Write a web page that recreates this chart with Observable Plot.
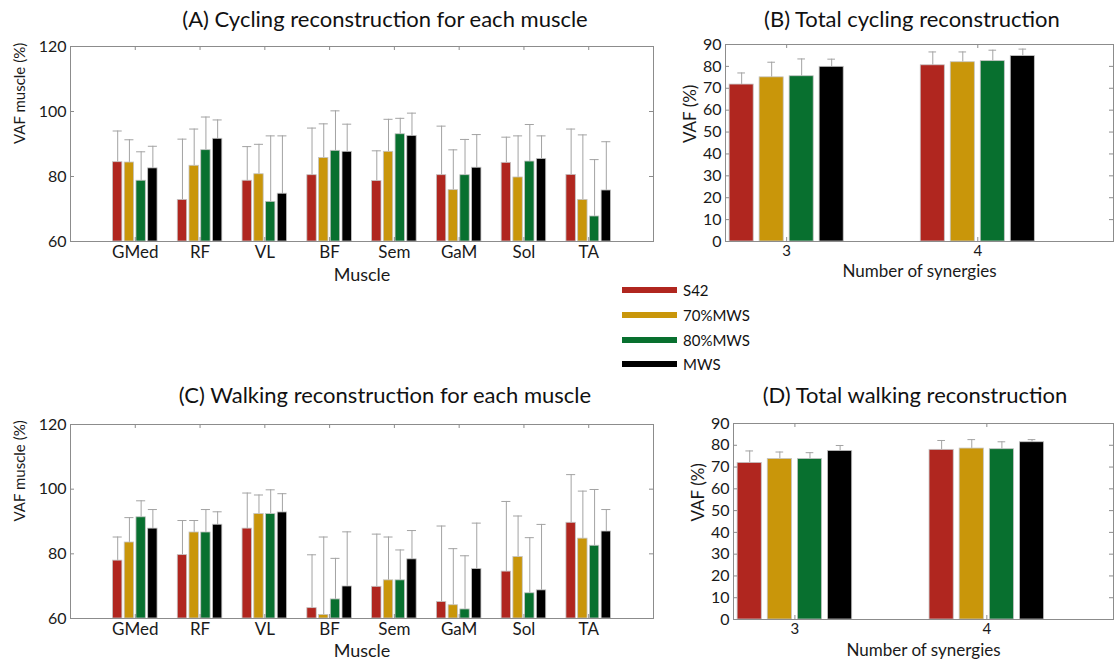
<!DOCTYPE html>
<html>
<head>
<meta charset="utf-8">
<script src="https://cdn.jsdelivr.net/npm/d3@7"></script>
<script src="https://cdn.jsdelivr.net/npm/@observablehq/plot@0.6"></script>
<style>
  body { margin: 0; background: #fff; font-family: Lato, "Open Sans", sans-serif; }
  #root { position: relative; width: 1116px; height: 667px; overflow: hidden; background: #fff; }
  .title { position: absolute; font-size: 22px; color: #111; white-space: nowrap; transform: translate(-50%, -50%); }
  .panel { position: absolute; }
  .legend { position: absolute; left: 622px; top: 278px; font-size: 15px; color: #111; }
  .legend .item { display: flex; align-items: center; height: 24.7px; }
  .legend .sw { width: 55px; height: 6px; margin-right: 6px; }
</style>
</head>
<body>
<div id="root"></div>
<script>
// ---------- data ----------
const muscles = ["GMed", "RF", "VL", "BF", "Sem", "GaM", "Sol", "TA"];
const synergies = [3, 4];
const conditions = ["S42", "70%MWS", "80%MWS", "MWS"];
const condColors = ["#B0261F", "#C9960A", "#08702F", "#000000"];

// (A) cycling, per muscle: mean and upper end of error bar
const cycS42 = [84.4, 72.8, 78.7, 80.4, 78.6, 80.4, 84.2, 80.5];
const cycS42Hi = [94.0, 91.5, 89.2, 94.9, 87.9, 95.5, 92.1, 94.6];
const cyc70 = [84.3, 83.3, 80.7, 85.7, 87.6, 75.8, 79.7, 72.8];
const cyc70Hi = [91.3, 94.6, 89.9, 96.2, 97.6, 88.2, 92.5, 92.8];
const cyc80 = [78.7, 88.1, 72.2, 87.9, 93.0, 80.4, 84.6, 67.7];
const cyc80Hi = [87.6, 98.3, 92.5, 100.2, 97.9, 91.4, 96.0, 85.2];
const cycMWS = [82.5, 91.6, 74.7, 87.6, 92.5, 82.7, 85.4, 75.7];
const cycMWSHi = [89.3, 97.4, 92.5, 96.1, 99.5, 92.9, 92.5, 90.7];

// (C) walking, per muscle
const walkS42 = [77.9, 79.6, 87.8, 63.2, 69.8, 65.1, 74.5, 89.6];
const walkS42Hi = [85.2, 90.3, 98.8, 79.7, 86.1, 88.6, 96.2, 104.5];
const walk70 = [83.5, 86.6, 92.3, 61.1, 71.8, 64.1, 79.0, 84.7];
const walk70Hi = [91.2, 90.3, 98.2, 85.2, 85.2, 81.6, 91.7, 99.4];
const walk80 = [91.3, 86.6, 92.3, 65.9, 71.8, 62.8, 67.8, 82.5];
const walk80Hi = [96.4, 93.7, 99.8, 78.6, 81.2, 79.4, 85.0, 99.9];
const walkMWS = [87.8, 89.0, 92.8, 69.9, 78.3, 75.3, 68.7, 86.9];
const walkMWSHi = [93.7, 93.0, 98.6, 86.8, 87.2, 89.5, 89.1, 93.7];

// (B) total cycling, by number of synergies
const totCycS42 = [71.7, 80.5], totCycS42Hi = [77.0, 86.6];
const totCyc70 = [75.0, 81.9], totCyc70Hi = [81.9, 86.6];
const totCyc80 = [75.5, 82.4], totCyc80Hi = [83.4, 87.4];
const totCycMWS = [79.8, 84.7], totCycMWSHi = [83.3, 87.9];

// (D) total walking
const totWalkS42 = [71.9, 77.9], totWalkS42Hi = [77.4, 82.2];
const totWalk70 = [73.7, 78.5], totWalk70Hi = [76.9, 82.6];
const totWalk80 = [73.7, 78.2], totWalk80Hi = [76.6, 81.6];
const totWalkMWS = [77.4, 81.4], totWalkMWSHi = [79.9, 82.6];

const muscleTicks = [60, 80, 100, 120];
const totalTicks = [0, 10, 20, 30, 40, 50, 60, 70, 80, 90];

// ---------- chart builder ----------
function groupedBars(cfg) {
  const {cats, pos, series, hi, xDomain, yDomain, yTicks, step, bw, capw,
         width, height, ml, mr, mt, mb, yLabel, xLabel, yLabelDx, xLabelDy,
         xFont, xLabelFont, yLabelFont} = cfg;
  const rows = [];
  conditions.forEach((c, ci) => series[ci].forEach((v, i) =>
    rows.push({cat: cats[i], pos: pos[i], cond: c, ci, value: v, hi: hi[ci][i]})));
  const center = d => d.pos + (d.ci - 1.5) * step;
  const innerH = height - mt - mb, innerW = width - ml - mr;
  const ty = (yDomain[1] - yDomain[0]) * 4 / innerH;
  const tx = (xDomain[1] - xDomain[0]) * 4 / innerW;
  return Plot.plot({
    width, height, marginLeft: ml, marginRight: mr, marginTop: mt, marginBottom: mb,
    x: {type: "linear", domain: xDomain, axis: null},
    y: {domain: yDomain, axis: null},
    color: {domain: conditions, range: condColors},
    style: {fontFamily: "Lato, 'Open Sans', sans-serif", fontSize: "15px", color: "#1a1a1a", background: "white", overflow: "visible"},
    marks: [
      // error bars
      Plot.ruleX(rows, {x: center, y1: "value", y2: "hi", stroke: "#a3a3a3", strokeWidth: 1}),
      Plot.ruleY(rows, {y: "hi", x1: d => center(d) - capw, x2: d => center(d) + capw, stroke: "#a3a3a3", strokeWidth: 1}),
      // bars
      Plot.rectY(rows, {x1: d => center(d) - bw / 2, x2: d => center(d) + bw / 2,
        y1: () => yDomain[0], y2: "value", fill: "cond", stroke: "#c4c4c4", strokeWidth: 0.8}),
      Plot.frame({stroke: "#8c8c8c", strokeWidth: 1}),
      // inward tick marks (box style)
      Plot.ruleX(pos, {x: d => d, y1: () => yDomain[0], y2: () => yDomain[0] + ty, stroke: "#8c8c8c"}),
      Plot.ruleX(pos, {x: d => d, y1: () => yDomain[1], y2: () => yDomain[1] - ty, stroke: "#8c8c8c"}),
      Plot.ruleY(yTicks, {y: d => d, x1: () => xDomain[0], x2: () => xDomain[0] + tx, stroke: "#8c8c8c"}),
      Plot.ruleY(yTicks, {y: d => d, x1: () => xDomain[1], x2: () => xDomain[1] - tx, stroke: "#8c8c8c"}),
      // axes
      Plot.axisX({ticks: pos, tickFormat: v => cats[pos.indexOf(v)], tickSize: 0, tickPadding: 4, fontSize: xFont, label: null}),
      Plot.axisY({ticks: yTicks, tickSize: 0, tickPadding: 4, fontSize: 16, label: null}),
      Plot.text([xLabel], {frameAnchor: "bottom", dy: xLabelDy, fontSize: xLabelFont, fill: "#1a1a1a"}),
      Plot.text([yLabel], {frameAnchor: "left", dx: yLabelDx, rotate: -90, fontSize: yLabelFont, fill: "#1a1a1a"})
    ]
  });
}

const root = document.getElementById("root");
function place(node, left, top) {
  const wrap = document.createElement("div");
  wrap.className = "panel";
  wrap.style.left = left + "px";
  wrap.style.top = top + "px";
  wrap.appendChild(node);
  root.appendChild(wrap);
}
function title(text, cx, cy) {
  const d = document.createElement("div");
  d.className = "title";
  d.textContent = text;
  d.style.left = cx + "px";
  d.style.top = cy + "px";
  root.appendChild(d);
}

const musclePos = muscles.map((m, i) => i + 1);

// (A)
place(groupedBars({
  cats: muscles, pos: musclePos,
  series: [cycS42, cyc70, cyc80, cycMWS], hi: [cycS42Hi, cyc70Hi, cyc80Hi, cycMWSHi],
  xDomain: [0, 9], yDomain: [60, 120], yTicks: muscleTicks,
  step: 0.181, bw: 0.145, capw: 0.07,
  width: 660, height: 256, ml: 70, mr: 7, mt: 16, mb: 45,
  yLabel: "VAF muscle (%)", xLabel: "Muscle", yLabelDx: -50, xLabelDy: 39,
  xFont: 17, xLabelFont: 18, yLabelFont: 15
}), 0, 30);

// (B)
place(groupedBars({
  cats: synergies.map(String), pos: synergies,
  series: [totCycS42, totCyc70, totCyc80, totCycMWS], hi: [totCycS42Hi, totCyc70Hi, totCyc80Hi, totCycMWSHi],
  xDomain: [2.68, 4.71], yDomain: [0, 90], yTicks: totalTicks,
  step: 0.157, bw: 0.126, capw: 0.02,
  width: 456, height: 260, ml: 65, mr: 3, mt: 16, mb: 47,
  yLabel: "VAF (%)", xLabel: "Number of synergies", yLabelDx: -35, xLabelDy: 35,
  xFont: 15, xLabelFont: 17, yLabelFont: 17
}), 660, 28);

// (C)
place(groupedBars({
  cats: muscles, pos: musclePos,
  series: [walkS42, walk70, walk80, walkMWS], hi: [walkS42Hi, walk70Hi, walk80Hi, walkMWSHi],
  xDomain: [0, 9], yDomain: [60, 120], yTicks: muscleTicks,
  step: 0.181, bw: 0.145, capw: 0.07,
  width: 660, height: 259, ml: 70, mr: 7, mt: 16, mb: 49,
  yLabel: "VAF muscle (%)", xLabel: "Muscle", yLabelDx: -50, xLabelDy: 38,
  xFont: 17, xLabelFont: 18, yLabelFont: 15
}), 0, 408);

// (D)
place(groupedBars({
  cats: synergies.map(String), pos: synergies,
  series: [totWalkS42, totWalk70, totWalk80, totWalkMWS], hi: [totWalkS42Hi, totWalk70Hi, totWalk80Hi, totWalkMWSHi],
  xDomain: [2.68, 4.66], yDomain: [0, 90], yTicks: totalTicks,
  step: 0.157, bw: 0.126, capw: 0.02,
  width: 456, height: 260, ml: 73, mr: 3, mt: 16, mb: 48,
  yLabel: "VAF (%)", xLabel: "Number of synergies", yLabelDx: -35, xLabelDy: 36,
  xFont: 15, xLabelFont: 17, yLabelFont: 17
}), 660, 407);

title("(A) Cycling reconstruction for each muscle", 385, 18);
title("(B) Total cycling reconstruction", 912, 18);
title("(C) Walking reconstruction for each muscle", 385, 394);
title("(D) Total walking reconstruction", 915, 394);

// legend
const leg = document.createElement("div");
leg.className = "legend";
conditions.forEach((c, i) => {
  const it = document.createElement("div");
  it.className = "item";
  const sw = document.createElement("div");
  sw.className = "sw";
  sw.style.background = condColors[i];
  const tx = document.createElement("span");
  tx.textContent = c;
  it.appendChild(sw); it.appendChild(tx);
  leg.appendChild(it);
});
root.appendChild(leg);
</script>
</body>
</html>
